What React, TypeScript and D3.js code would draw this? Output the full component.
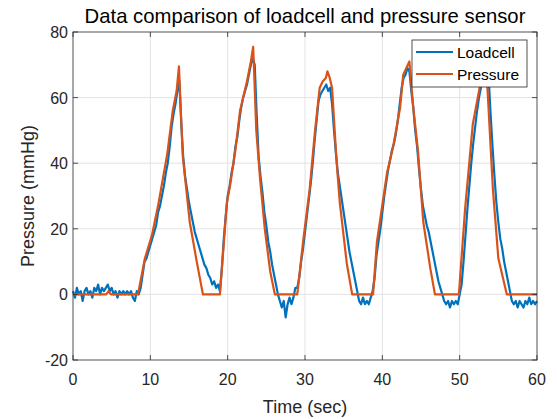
import React from "react";
import * as d3 from "d3";

const title = "Data comparison of loadcell and pressure sensor";
const xLabel = "Time (sec)";
const yLabel = "Pressure (mmHg)";
const xTicks = [0, 10, 20, 30, 40, 50, 60];
const yTicks = [-20, 0, 20, 40, 60, 80];
const seriesNames = ["Loadcell", "Pressure"];
const seriesColors = ["#0072BD", "#D95319"];

// Loadcell samples every 0.25 s from 0 to 60 s
const loadcellStep = 0.25;
const loadcellValues = [
  // 0 - 8.5
  1, -1, 2, 0, 1, -2, 1, 2, 0, 1, -1, 2, 1, 3, 0, 2, 1, 2, 3, 1, 2, 0, 1, -1, 1, 0, 1, 0, 1, 0, 1, -1, -2, 1, 0,
  // 8.75 - 13.75
  2, 6, 10, 11, 13, 15, 17, 19, 21, 25, 27, 30, 33, 37, 40, 45, 51, 55, 58, 62, 65,
  // 14 - 19
  52, 42, 36, 32, 28, 25, 22, 19, 17, 15, 13, 11, 9, 8, 6, 5, 3, 4, 2, 3, 1,
  // 19.25 - 23.5
  8, 17, 24, 30, 33, 37, 40, 45, 48, 53, 57, 60, 62, 64, 67, 70, 72, 70,
  // 23.75 - 29
  55, 42, 36, 31, 25, 21, 16, 13, 9, 6, 3, 0, -2, -4, -2, -7, -3, -1, -3, -1, 2, 2,
  // 29.25 - 33.5
  5, 10, 14, 19, 24, 29, 34, 40, 47, 53, 59, 61, 62, 63, 64, 62, 63, 58,
  // 33.75 - 38.5
  50, 43, 37, 33, 29, 25, 21, 17, 13, 10, 7, 4, 1, -2, -3, -1, -3, -2, -3, -1,
  // 38.75 - 43.5
  1, 5, 12, 16, 20, 25, 30, 34, 38, 41, 44, 46, 49, 53, 58, 63, 66, 67, 69, 68,
  // 43.75 - 50
  62, 57, 50, 45, 38, 32, 27, 24, 21, 19, 16, 13, 10, 7, 4, 2, 0, -2, -3, -2, -4, -2, -3, -2, -3, 0,
  // 50.25 - 53.5
  3, 10, 18, 26, 33, 40, 46, 51, 56, 60, 63, 66, 68, 70,
  // 53.75 - 60
  66, 55, 45, 36, 28, 22, 17, 14, 10, 7, 4, 1, -2, -3, -2, -4, -2, -3, -4, -2, -3, -1, -3, -2, -3, -2,
];

const pressureTimes = [
  0, 4.3, 4.6, 4.9, 8.4, 9.3, 10.2, 11, 12.2, 12.9, 13.4, 13.7, 14.2, 15.1, 16, 16.8,
  19, 19.9, 20.3, 21, 21.6, 22.5, 23, 23.3, 23.7, 24.2, 24.8, 25.5, 26.1,
  29, 29.8, 30.6, 31.3, 31.9, 32.3, 32.7, 32.9, 33.2, 33.5, 34.1, 34.5, 35.4, 36.1,
  38.8, 39.3, 40.6, 41.4, 42.3, 42.7, 43.5, 44, 44.6, 45.3, 46.2, 46.8,
  49.9, 50.7, 51.7, 52.9, 53.3, 53.5, 54.3, 55, 56.1, 60,
];
const pressureValues = [
  0, 0, 1, 0, 0, 11, 18, 27, 43, 56, 62, 69.5, 42, 22, 10, 0,
  0, 28, 33, 44, 56, 65, 71, 75.5, 50, 35, 20, 7, 0,
  0, 17, 32, 50, 63, 65, 66, 68, 66, 63, 40, 28, 9.5, 0,
  0, 16, 37, 45, 57, 67, 71, 57, 44, 22, 8, 0,
  0, 26, 52, 67, 70, 67, 32, 11, 0, 0,
];

const W = 557;
const H = 419;
const margin = { left: 73, right: 20, top: 32, bottom: 59 };

export default function App() {
  const x = d3.scaleLinear().domain([0, 60]).range([margin.left, W - margin.right]);
  const y = d3.scaleLinear().domain([-20, 80]).range([H - margin.bottom, margin.top]);
  const x0 = x(0), x1 = x(60), y0 = y(-20), y1 = y(80);

  const loadcell: [number, number][] = loadcellValues.map((v, i) => [i * loadcellStep, v]);
  const pressure: [number, number][] = pressureTimes.map((t, i) => [t, pressureValues[i]]);
  const line = d3.line<[number, number]>().x((d) => x(d[0])).y((d) => y(d[1]));

  const font = "'Liberation Sans', Arial, Helvetica, sans-serif";
  const axisColor = "#262626";
  const gridColor = "#e3e3e3";

  const lg = { x: 412, y: 40, w: 115, h: 47 };

  return (
    <svg width={W} height={H} style={{ position: "absolute", left: 0, top: 0 }} fontFamily={font}>
      <rect x={0} y={0} width={W} height={H} fill="#ffffff" />
      {/* grid */}
      {xTicks.slice(1, -1).map((t) => (
        <line key={"gx" + t} x1={x(t)} x2={x(t)} y1={y0} y2={y1} stroke={gridColor} strokeWidth={1} />
      ))}
      {yTicks.slice(1, -1).map((t) => (
        <line key={"gy" + t} x1={x0} x2={x1} y1={y(t)} y2={y(t)} stroke={gridColor} strokeWidth={1} />
      ))}
      {/* data */}
      <path d={line(loadcell) || ""} fill="none" stroke={seriesColors[0]} strokeWidth={2.2} strokeLinejoin="round" />
      <path d={line(pressure) || ""} fill="none" stroke={seriesColors[1]} strokeWidth={2.2} strokeLinejoin="round" />
      {/* box */}
      <rect x={x0} y={y1} width={x1 - x0} height={y0 - y1} fill="none" stroke={axisColor} strokeWidth={0.8} />
      {/* ticks */}
      {xTicks.map((t) => (
        <g key={"xt" + t}>
          <line x1={x(t)} x2={x(t)} y1={y0} y2={y0 - 5} stroke={axisColor} strokeWidth={0.8} />
          <line x1={x(t)} x2={x(t)} y1={y1} y2={y1 + 5} stroke={axisColor} strokeWidth={0.8} />
          <text x={x(t)} y={y0 + 25} textAnchor="middle" fontSize={16} fill={axisColor}>
            {t}
          </text>
        </g>
      ))}
      {yTicks.map((t) => (
        <g key={"yt" + t}>
          <line x1={x0} x2={x0 + 5} y1={y(t)} y2={y(t)} stroke={axisColor} strokeWidth={0.8} />
          <line x1={x1} x2={x1 - 5} y1={y(t)} y2={y(t)} stroke={axisColor} strokeWidth={0.8} />
          <text x={x0 - 5} y={y(t) + 6} textAnchor="end" fontSize={16} fill={axisColor}>
            {t}
          </text>
        </g>
      ))}
      {/* labels */}
      <text x={(x0 + x1) / 2} y={y0 + 53} textAnchor="middle" fontSize={18} fill={axisColor}>
        {xLabel}
      </text>
      <text
        transform={`translate(${34},${(y0 + y1) / 2}) rotate(-90)`}
        textAnchor="middle"
        fontSize={18}
        fill={axisColor}
      >
        {yLabel}
      </text>
      <text x={(x0 + x1) / 2} y={23} textAnchor="middle" fontSize={20.3} fill="#000000">
        {title}
      </text>
      {/* legend */}
      <rect x={lg.x} y={lg.y} width={lg.w} height={lg.h} fill="#ffffff" stroke={axisColor} strokeWidth={0.8} />
      {seriesNames.map((n, i) => (
        <g key={n}>
          <line
            x1={lg.x + 4}
            x2={lg.x + 41}
            y1={lg.y + 12 + i * 22}
            y2={lg.y + 12 + i * 22}
            stroke={seriesColors[i]}
            strokeWidth={2.2}
          />
          <text x={lg.x + 45} y={lg.y + 17.5 + i * 22} fontSize={15.5} fill="#000000">
            {n}
          </text>
        </g>
      ))}
    </svg>
  );
}
